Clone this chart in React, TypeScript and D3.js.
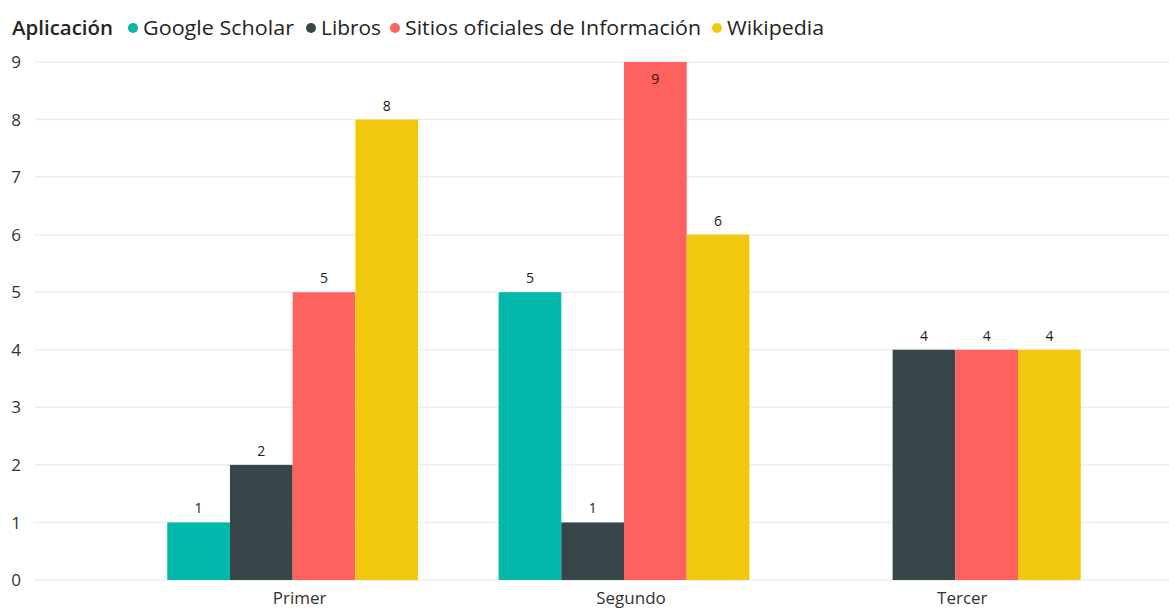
import React from 'react';
import * as d3 from 'd3';

const categories = ['Primer', 'Segundo', 'Tercer'];
const seriesNames = ['Google Scholar', 'Libros', 'Sitios oficiales de Información', 'Wikipedia'];
const googleScholar = [1, 5, 0];
const libros = [2, 1, 4];
const sitios = [5, 9, 4];
const wikipedia = [8, 6, 4];
const yTicks = [0, 1, 2, 3, 4, 5, 6, 7, 8, 9];
const legendTitle = 'Aplicación';

const colors = ['#01B8AA', '#374649', '#FD625E', '#F2C80F'];
// legend layout (marker x, text width)
const legendX = [133, 311, 395, 717];
const legendW = [151, 60, 296, 97];

const App = () => {
  const width = 1169;
  const height = 610;
  const series = [googleScholar, libros, sitios, wikipedia];

  const x = d3.scaleBand<string>()
    .domain(categories)
    .range([127, 1121])
    .paddingInner(0.243)
    .paddingOuter(0.1215);
  const x1 = d3.scaleBand<string>()
    .domain(seriesNames)
    .range([0, x.bandwidth()]);
  const y = d3.scaleLinear().domain([0, 9]).range([580, 62]);

  const font = '"Segoe UI", "Open Sans", sans-serif';

  return (
    <svg width={width} height={height} style={{ position: 'absolute', left: 0, top: 0, background: '#fff' }}>
      {/* gridlines */}
      {yTicks.map((t) => (
        <line key={t} x1={34} x2={1169} y1={y(t)} y2={y(t)} stroke="#eeeeee" strokeWidth={1.5} />
      ))}
      {yTicks.map((t) => (
        <text key={'l' + t} x={16} y={y(t)} dy="0.36em" textAnchor="middle"
          fontFamily={font} fontSize={17} fill="#333">{t}</text>
      ))}

      {/* bars */}
      {categories.map((c, ci) => (
        <g key={c} transform={`translate(${x(c)},0)`}>
          {series.map((s, si) => {
            const v = s[ci];
            if (!v) return null;
            const bx = x1(seriesNames[si]) as number;
            const top = y(v);
            const inside = top - 20 < 62;
            return (
              <g key={si}>
                <rect x={bx} y={top} width={x1.bandwidth()} height={y(0) - top} fill={colors[si]} />
                <text x={bx + x1.bandwidth() / 2} y={inside ? top + 22 : top - 9} textAnchor="middle"
                  fontFamily={font} fontSize={14} fill="#1a1a1a">{v}</text>
              </g>
            );
          })}
        </g>
      ))}

      {/* x labels */}
      {categories.map((c) => (
        <text key={'x' + c} x={(x(c) as number) + x.bandwidth() / 2 + 7} y={604} textAnchor="middle"
          fontFamily={font} fontSize={17} fill="#333">{c}</text>
      ))}

      {/* legend */}
      <text x={12} y={35} fontFamily={font} fontSize={20} fontWeight={600} fill="#252423"
        textLength={101} lengthAdjust="spacingAndGlyphs">{legendTitle}</text>
      {seriesNames.map((n, i) => (
        <g key={n}>
          <circle cx={legendX[i]} cy={28} r={5} fill={colors[i]} />
          <text x={legendX[i] + 10} y={35} fontFamily={font} fontSize={20} fill="#252423"
            textLength={legendW[i]} lengthAdjust="spacingAndGlyphs">{n}</text>
        </g>
      ))}
    </svg>
  );
};

export default App;
